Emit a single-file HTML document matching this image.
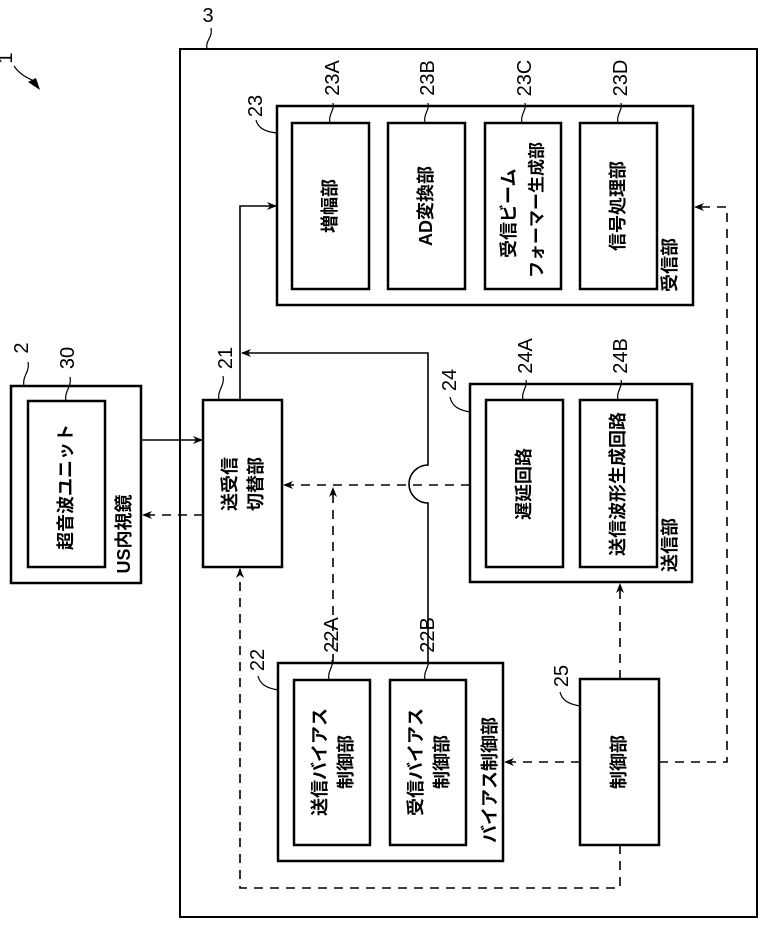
<!DOCTYPE html>
<html><head><meta charset="utf-8"><style>
html,body{margin:0;padding:0;background:#fff;}
svg{display:block;}
text{font-family:"Liberation Sans","Noto Sans CJK JP",sans-serif;fill:#000;}
.b{font-size:18px;font-weight:bold;}
.n{font-size:20px;}
</style></head><body>
<svg width="768" height="929" viewBox="0 0 768 929" xmlns="http://www.w3.org/2000/svg">
<defs>
<marker id="a" markerWidth="10" markerHeight="8" refX="9" refY="4" orient="auto" markerUnits="userSpaceOnUse"><path d="M0,0 L10,4 L0,8 L3,4 Z" fill="#000"/></marker>
</defs>
<g fill="none" stroke="#000" stroke-width="2.5">
<rect x="180" y="49" width="577" height="868" stroke-width="2"/>
<rect x="11" y="386" width="130" height="197"/>
<rect x="28" y="401" width="77" height="166"/>
<rect x="203" y="400" width="79" height="167"/>
<rect x="277" y="106" width="416" height="199"/>
<rect x="292" y="123" width="77" height="166"/>
<rect x="388" y="123" width="77" height="166"/>
<rect x="485" y="123" width="76" height="166"/>
<rect x="580" y="123" width="77" height="166"/>
<rect x="470" y="384" width="222" height="198"/>
<rect x="486" y="400" width="77" height="167"/>
<rect x="580" y="400" width="77" height="167"/>
<rect x="278" y="663" width="225" height="198"/>
<rect x="294" y="680" width="76" height="165"/>
<rect x="390" y="680" width="76" height="165"/>
<rect x="580" y="679" width="79" height="166"/>
</g>
<g fill="none" stroke="#000" stroke-width="1.6">
<path d="M240,400 V206 H276" marker-end="url(#a)"/>
<path d="M428,663 V503 A19,19 0 0 1 428,465 V353 H242" marker-end="url(#a)"/>
<path d="M141,440 H202" marker-end="url(#a)"/>
</g>
<g fill="none" stroke="#000" stroke-width="1.6" stroke-dasharray="9,7">
<path d="M203,515 H143" marker-end="url(#a)"/>
<path d="M470,485 H284" marker-end="url(#a)"/>
<path d="M333,663 V488" marker-end="url(#a)"/>
<path d="M620,679 V584" marker-end="url(#a)"/>
<path d="M580,762 H505" marker-end="url(#a)"/>
<path d="M659,762 H727 V207 H695" marker-end="url(#a)"/>
<path d="M620,845 V888 H240 V569" marker-end="url(#a)"/>
</g>
<g fill="none" stroke="#000" stroke-width="1.2">
<path d="M207,49 C205,40 213,38 211,28"/>
<path d="M14,66 C20,75 28,78 36,82"/>
<path d="M24,386 C22,376 30,372 28,362"/>
<path d="M66,401 C64,391 72,387 70,377"/>
<path d="M219,400 C217,390 225,386 223,376"/>
<path d="M277,133 C265,132 258,128 256,120"/>
<path d="M330,123 C328,114 335,110 333,103"/>
<path d="M425,123 C423,114 430,110 428,103"/>
<path d="M522,123 C520,114 527,110 525,103"/>
<path d="M618,123 C616,114 623,110 621,103"/>
<path d="M470,412 C458,410 452,406 450,397"/>
<path d="M523,400 C521,391 528,387 526,380"/>
<path d="M618,400 C616,391 623,387 621,380"/>
<path d="M278,690 C266,688 260,684 258,676"/>
<path d="M329,680 C327,671 334,667 332,660"/>
<path d="M425,680 C423,671 430,667 428,660"/>
<path d="M580,706 C568,704 562,700 560,692"/>
</g>
<path d="M28,82 L40,90 L36,78 Z" fill="#000"/>
<g class="n">
<text x="208" y="22" text-anchor="middle">3</text>
<text transform="translate(12,58) rotate(-90)" text-anchor="middle">1</text>
<text transform="translate(22,348) rotate(-90)" text-anchor="middle" dominant-baseline="central">2</text>
<text transform="translate(68,358) rotate(-90)" text-anchor="middle" dominant-baseline="central">30</text>
<text transform="translate(226,358) rotate(-90)" text-anchor="middle" dominant-baseline="central">21</text>
<text transform="translate(256,106) rotate(-90)" text-anchor="middle" dominant-baseline="central">23</text>
<text transform="translate(333,78) rotate(-90)" text-anchor="middle" dominant-baseline="central">23A</text>
<text transform="translate(428,78) rotate(-90)" text-anchor="middle" dominant-baseline="central">23B</text>
<text transform="translate(525,78) rotate(-90)" text-anchor="middle" dominant-baseline="central">23C</text>
<text transform="translate(621,78) rotate(-90)" text-anchor="middle" dominant-baseline="central">23D</text>
<text transform="translate(450,380) rotate(-90)" text-anchor="middle" dominant-baseline="central">24</text>
<text transform="translate(526,356) rotate(-90)" text-anchor="middle" dominant-baseline="central">24A</text>
<text transform="translate(621,356) rotate(-90)" text-anchor="middle" dominant-baseline="central">24B</text>
<text transform="translate(258,660) rotate(-90)" text-anchor="middle" dominant-baseline="central">22</text>
<text transform="translate(332,635) rotate(-90)" text-anchor="middle" dominant-baseline="central">22A</text>
<text transform="translate(428,635) rotate(-90)" text-anchor="middle" dominant-baseline="central">22B</text>
<text transform="translate(562,676) rotate(-90)" text-anchor="middle" dominant-baseline="central">25</text>
</g>
<g class="b">
<text transform="translate(66,487) rotate(-90)" text-anchor="middle" dominant-baseline="central">超音波ユニット</text>
<text transform="translate(124,534) rotate(-90)" text-anchor="middle" dominant-baseline="central">US内視鏡</text>
<text transform="translate(230,484) rotate(-90)" text-anchor="middle" dominant-baseline="central">送受信</text>
<text transform="translate(256,484) rotate(-90)" text-anchor="middle" dominant-baseline="central">切替部</text>
<text transform="translate(330,206) rotate(-90)" text-anchor="middle" dominant-baseline="central">増幅部</text>
<text transform="translate(426,206) rotate(-90)" text-anchor="middle" dominant-baseline="central">AD変換部</text>
<text transform="translate(509,258) rotate(-90)" text-anchor="start" dominant-baseline="central">受信ビーム</text>
<text transform="translate(537,278) rotate(-90)" text-anchor="start" dominant-baseline="central" style="font-size:17px">フォーマー生成部</text>
<text transform="translate(618,206) rotate(-90)" text-anchor="middle" dominant-baseline="central">信号処理部</text>
<text transform="translate(670,265) rotate(-90)" text-anchor="middle" dominant-baseline="central">受信部</text>
<text transform="translate(524,484) rotate(-90)" text-anchor="middle" dominant-baseline="central">遅延回路</text>
<text transform="translate(618,484) rotate(-90)" text-anchor="middle" dominant-baseline="central">送信波形生成回路</text>
<text transform="translate(670,545) rotate(-90)" text-anchor="middle" dominant-baseline="central">送信部</text>
<text transform="translate(320,762) rotate(-90)" text-anchor="middle" dominant-baseline="central">送信バイアス</text>
<text transform="translate(346,762) rotate(-90)" text-anchor="middle" dominant-baseline="central">制御部</text>
<text transform="translate(416,762) rotate(-90)" text-anchor="middle" dominant-baseline="central">受信バイアス</text>
<text transform="translate(442,762) rotate(-90)" text-anchor="middle" dominant-baseline="central">制御部</text>
<text transform="translate(490,780) rotate(-90)" text-anchor="middle" dominant-baseline="central">バイアス制御部</text>
<text transform="translate(619,762) rotate(-90)" text-anchor="middle" dominant-baseline="central">制御部</text>
</g>
</svg>
</body></html>
